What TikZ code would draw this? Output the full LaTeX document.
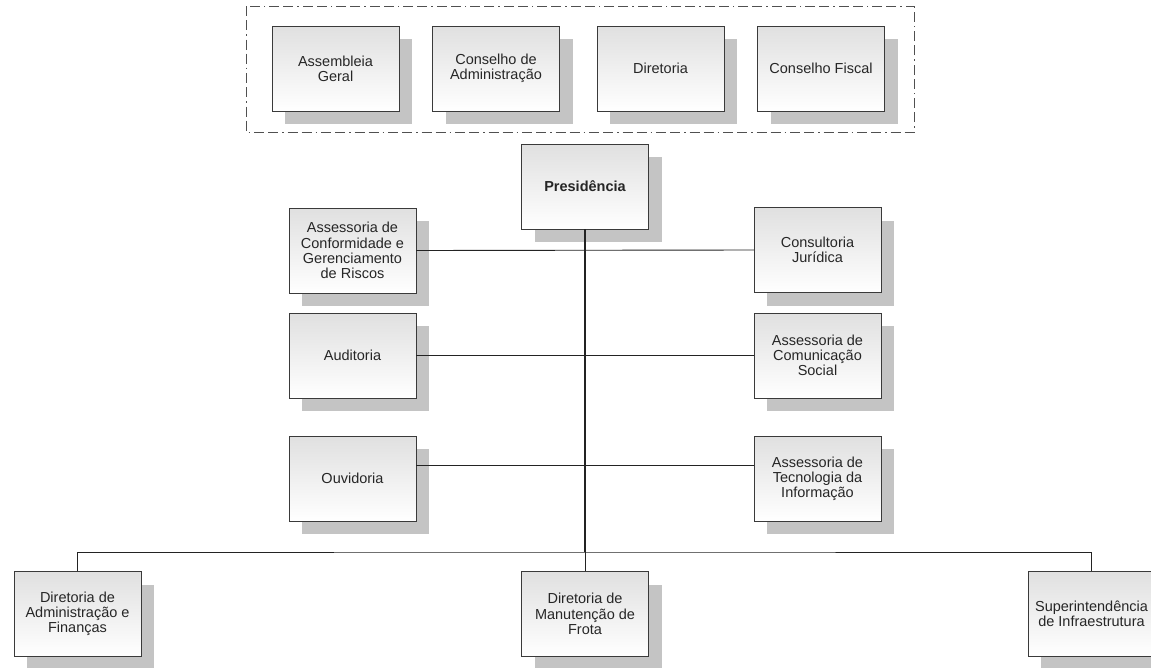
\documentclass[tikz,border=0pt]{standalone}
\usepackage{fontspec}
\setmainfont{Liberation Sans}
\usetikzlibrary{shadows}
\definecolor{boxline}{RGB}{58,58,58}
\definecolor{boxtop}{RGB}{224,224,224}
\definecolor{shadowc}{RGB}{196,196,196}
\definecolor{linec}{RGB}{35,35,35}
\definecolor{framec}{RGB}{80,80,80}

\begin{document}
\begin{tikzpicture}[x=1pt,y=-1pt,
    unit/.style={draw=boxline, top color=boxtop, bottom color=white,
      minimum width=127pt, minimum height=85pt, inner sep=2pt, align=center,
      text=black!85, font=\fontsize{14.5}{15.2}\selectfont,
      drop shadow={shadow xshift=13pt, shadow yshift=-13pt, fill=shadowc, opacity=1}},
    link/.style={draw=linec, line width=0.9pt},
    trunk/.style={draw=linec, line width=1.6pt}]
  \useasboundingbox (0,0) rectangle (1151,667);
  % statutory bodies
  \draw[framec, line width=0.9pt, dash pattern=on 10pt off 4pt on 10pt off 4pt on 1.5pt off 4pt]
    (246,6) rectangle (914,132);
  \node[unit] (ag)  at (335.5,68.5) {Assembleia\\Geral};
  \node[unit] (cad) at (496,68.5)   {Conselho de\\Administração};
  \node[unit] (dir) at (660.5,68.5) {Diretoria};
  \node[unit] (cfi) at (821,68.5)   {Conselho Fiscal};
  % presidency
  \node[unit, font=\fontsize{14.5}{15.2}\selectfont\bfseries] (pres) at (585,186.5) {Presidência};
  % staff units, left
  \node[unit] (acg) at (352.5,250.5) {Assessoria de\\Conformidade e\\Gerenciamento\\de Riscos};
  \node[unit] (aud) at (352.5,355.8) {Auditoria};
  \node[unit] (ouv) at (352.5,478.5) {Ouvidoria};
  % staff units, right
  \node[unit] (cju) at (817.5,250)   {Consultoria\\Jurídica};
  \node[unit] (acs) at (817.5,355.5) {Assessoria de\\Comunicação\\Social};
  \node[unit] (ati) at (817.5,478.5) {Assessoria de\\Tecnologia da\\Informação};
  % directorates
  \node[unit] (daf) at (77.5,614)   {Diretoria de\\Administração e\\Finanças};
  \node[unit] (dmf) at (585,614)    {Diretoria de\\Manutenção de\\Frota};
  \node[unit] (sin) at (1091.5,614) {Superintendência\\de Infraestrutura};
  % connectors
  \coordinate (bus) at (585,552);
  \coordinate (row3) at (585,465.5);
  \draw[link] (acg.east) -- (cju.west);
  \draw[link] (aud.east) -- (acs.west |- aud.east);
  \draw[link] (ouv.east |- row3) -- (ati.west |- row3);
  \draw[trunk] (pres.south) -- (bus);
  \draw[link] (daf.north) |- (bus) -| (sin.north);
  \draw[link] (dmf.north) -- (bus);
\end{tikzpicture}
\end{document}
